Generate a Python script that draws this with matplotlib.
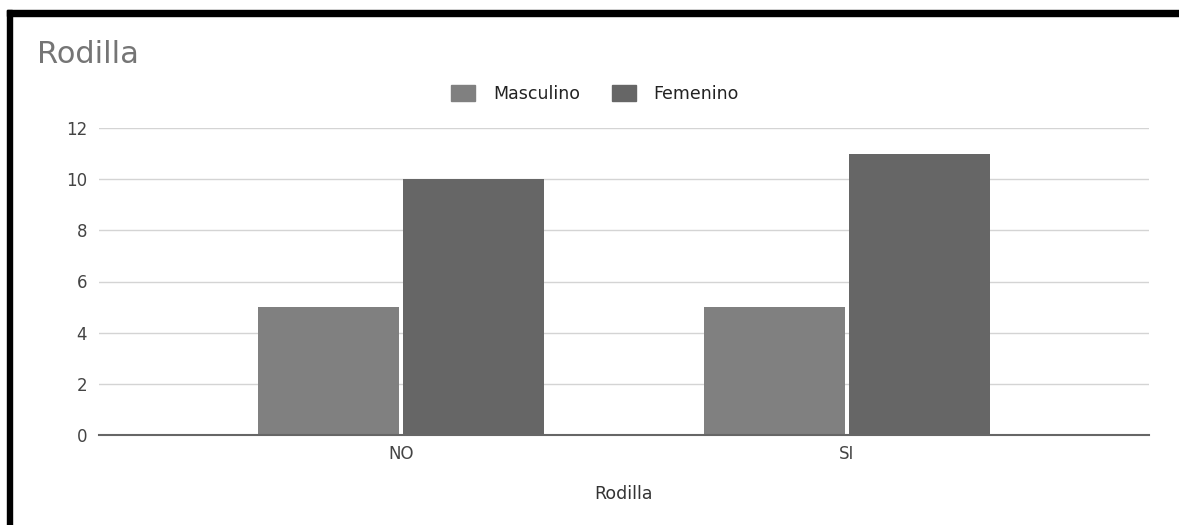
import numpy as np
import matplotlib
matplotlib.use("Agg")
import matplotlib.pyplot as plt
from matplotlib.patches import Rectangle, Patch

plt.rcParams['font.family'] = ['DejaVu Sans']

CATEGORIES = ["NO", "SI"]
MASCULINO = [5, 5]
FEMENINO = [10, 11]
SERIES = ["Masculino", "Femenino"]
COLORS = ["#808080", "#666666"]
YTICKS = [0, 2, 4, 6, 8, 10, 12]

W, H = 1179, 525
fig = plt.figure(figsize=(W / 100, H / 100), dpi=100)
fig.patch.set_facecolor("white")

# plot area in pixels: x 99..1149, y 128..435
ax = fig.add_axes([99 / W, 1 - 435 / H, (1149 - 99) / W, (435 - 128) / H])

x = np.arange(len(CATEGORIES))
width = 141 / 446
gap = 4 / 446
ax.bar(x - (width + gap) / 2, MASCULINO, width, color=COLORS[0], zorder=2)
ax.bar(x + (width + gap) / 2, FEMENINO, width, color=COLORS[1], zorder=2)

ax.set_xlim(-302 / 446, 1 + 302 / 446)
ax.set_ylim(0, 12)
ax.set_yticks(YTICKS)
ax.set_xticks(x)
ax.set_xticklabels(CATEGORIES)
ax.grid(True, axis="y", color="#d4d4d4", linewidth=1, zorder=1)
ax.set_axisbelow(True)
for side in ["top", "right", "left"]:
    ax.spines[side].set_visible(False)
ax.spines["bottom"].set_color("#666666")
ax.spines["bottom"].set_linewidth(1.5)
ax.spines["bottom"].set_zorder(3)
ax.tick_params(axis="both", length=0, labelsize=12, labelcolor="#444444")
ax.tick_params(axis="y", pad=8.5)
ax.tick_params(axis="x", pad=7)
ax.set_xlabel("Rodilla", fontsize=12.5, color="#333333", va="center")
ax.xaxis.set_label_coords(0.5, (435 - 494) / 307)

# title
fig.text(37 / W, 1 - 63 / H, "Rodilla", fontsize=22, color="#757575",
         ha="left", va="baseline")

# legend
handles = [Patch(facecolor=c, edgecolor=c, label=s) for c, s in zip(COLORS, SERIES)]
fig.legend(handles=handles, loc="center", bbox_to_anchor=(595 / W, 1 - 94 / H),
           ncol=2, frameon=False, fontsize=12.5, handlelength=1.4, handleheight=1.0,
           columnspacing=1.85, handletextpad=1.0, labelcolor="#222222")

# frame edges
fig.add_artist(Rectangle((7 / W, 1 - 16 / H), 1 - 7 / W, 6 / H,
                         transform=fig.transFigure, color="black", zorder=5))
fig.add_artist(Rectangle((7 / W, 0), 5 / W, 1 - 10 / H,
                         transform=fig.transFigure, color="black", zorder=5))

fig.savefig("out.png", dpi=100)
